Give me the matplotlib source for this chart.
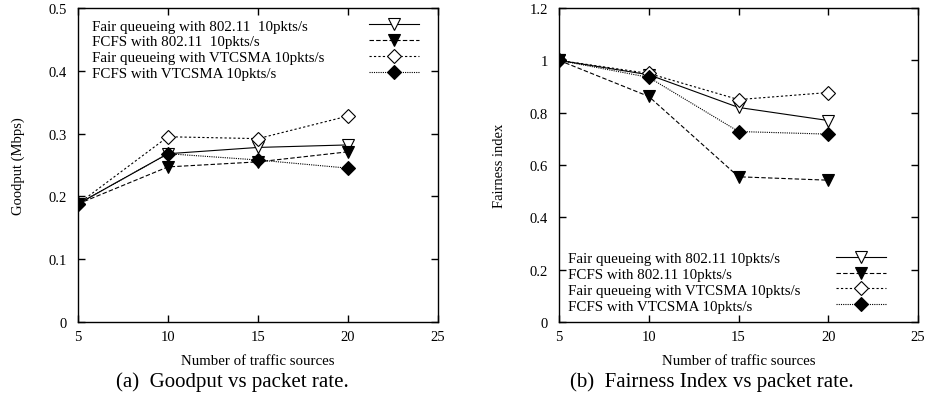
import matplotlib
matplotlib.use('Agg')
import matplotlib.pyplot as plt
from matplotlib.lines import Line2D

plt.rcParams['font.family'] = ['Liberation Serif', 'DejaVu Serif']
plt.rcParams['font.size'] = 10

sources = [5, 10, 15, 20]

# goodput (Mbps)
gp_fq_80211 = [0.188, 0.268, 0.278, 0.282]
gp_fcfs_80211 = [0.188, 0.247, 0.255, 0.271]
gp_fq_vtcsma = [0.188, 0.295, 0.292, 0.328]
gp_fcfs_vtcsma = [0.188, 0.268, 0.258, 0.245]

# fairness index
fi_fq_80211 = [1.0, 0.945, 0.82, 0.77]
fi_fcfs_80211 = [1.0, 0.862, 0.555, 0.542]
fi_fq_vtcsma = [1.0, 0.95, 0.85, 0.877]
fi_fcfs_vtcsma = [1.0, 0.935, 0.728, 0.718]

labels_a = ['Fair queueing with 802.11  10pkts/s', 'FCFS with 802.11  10pkts/s',
            'Fair queueing with VTCSMA 10pkts/s', 'FCFS with VTCSMA 10pkts/s']
labels_b = ['Fair queueing with 802.11 10pkts/s', 'FCFS with 802.11 10pkts/s',
            'Fair queueing with VTCSMA 10pkts/s', 'FCFS with VTCSMA 10pkts/s']

styles = [
    dict(ls='-', marker='v', mfc='white', ms=9),
    dict(ls=(0, (4, 2)), marker='v', mfc='black', ms=9),
    dict(ls=(0, (2, 2)), marker='D', mfc='white', ms=7.5),
    dict(ls=(0, (1, 1)), marker='D', mfc='black', ms=7.5),
]
LEG_FS = 10.8


def draw(ax, series, labels, ylim, yticks, ylabel, legloc, text_x, handle_x, leg_y):
    for y, st in zip(series, styles):
        ax.plot(sources, y, color='black', lw=0.8, mec='black', mew=0.8, **st)
    ax.set_xlim(5, 25)
    ax.set_ylim(*ylim)
    ax.set_xticks([5, 10, 15, 20, 25])
    ax.set_yticks(yticks)
    ax.set_yticklabels([('%g' % v) for v in yticks])
    ax.tick_params(direction='in', length=5, width=1, top=True, right=True, labelsize=10.5)
    ax.tick_params(axis='y', pad=8)
    ax.tick_params(axis='x', pad=6)
    for s in ax.spines.values():
        s.set_linewidth(1.0)
    ax.set_xlabel('Number of traffic sources', fontsize=10.7, labelpad=8)
    ax.set_ylabel(ylabel, fontsize=10.5, labelpad=17)

    # gnuplot-style key: text left, samples right
    handles = [Line2D([], [], color='black', lw=0.8, mec='black', mew=0.8, **st) for st in styles]
    blank = [Line2D([], [], lw=0) for _ in styles]
    leg_t = ax.legend(blank, labels, loc=legloc, bbox_to_anchor=(text_x, leg_y),
                      frameon=False, handlelength=0, handletextpad=0, labelspacing=0.16,
                      borderaxespad=0, borderpad=0, fontsize=LEG_FS)
    ax.add_artist(leg_t)
    ax.legend(handles, [' '] * 4, loc=legloc.replace('left', 'right'), bbox_to_anchor=(handle_x, leg_y),
              frameon=False, handlelength=3.3, handletextpad=0, labelspacing=0.16,
              borderaxespad=0, borderpad=0, fontsize=LEG_FS, markerfirst=False)


fig = plt.figure(figsize=(9.28, 4.06), dpi=100)
ax1 = fig.add_axes([0.084, 0.2044, 0.388, 0.7734])
ax2 = fig.add_axes([0.6024, 0.2044, 0.3869, 0.7734])

draw(ax1, [gp_fq_80211, gp_fcfs_80211, gp_fq_vtcsma, gp_fcfs_vtcsma], labels_a,
     (0, 0.5), [0, 0.1, 0.2, 0.3, 0.4, 0.5], 'Goodput (Mbps)', 'upper left', 0.039, 0.947, 0.965)
draw(ax2, [fi_fq_80211, fi_fcfs_80211, fi_fq_vtcsma, fi_fcfs_vtcsma], labels_b,
     (0, 1.2), [0, 0.2, 0.4, 0.6, 0.8, 1.0, 1.2], 'Fairness index', 'lower left', 0.025, 0.91, 0.03)

fig.text(0.25, 0.06, '(a)  Goodput vs packet rate.', ha='center', va='center', fontsize=15)
fig.text(0.767, 0.06, '(b)  Fairness Index vs packet rate.', ha='center', va='center', fontsize=15)

fig.savefig('out.png', dpi=100)
